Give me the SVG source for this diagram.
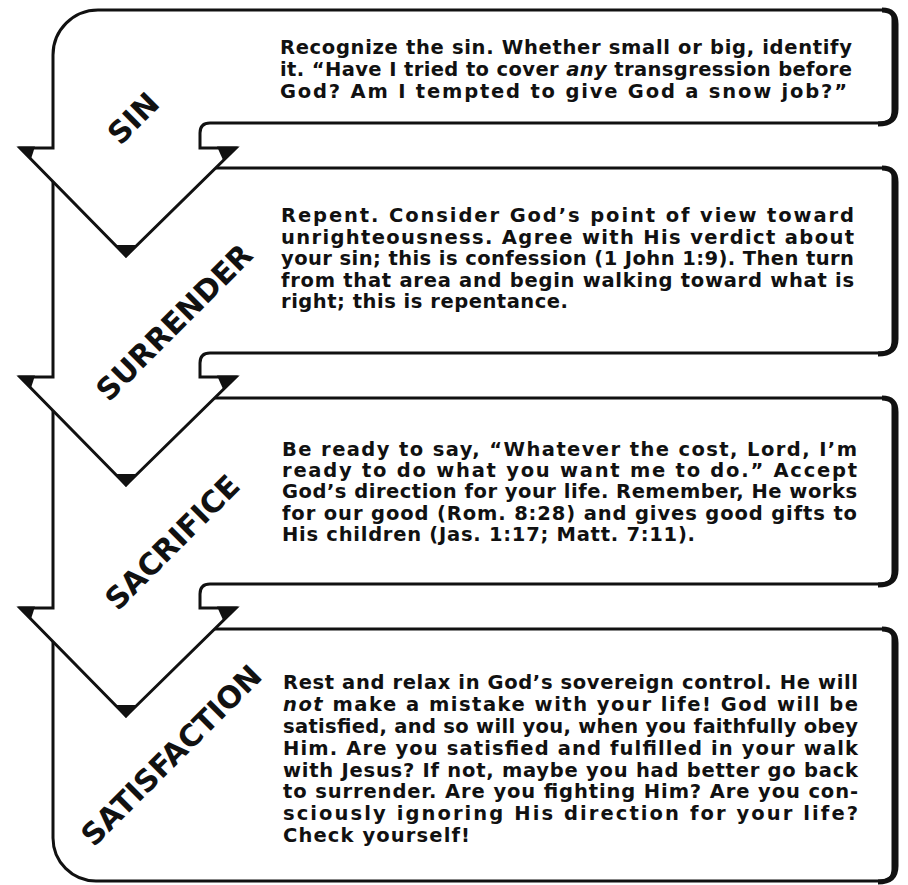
<svg xmlns="http://www.w3.org/2000/svg" xmlns:xlink="http://www.w3.org/1999/xlink" width="908" height="885" viewBox="0 0 908 885">
<style>
.shape{fill:#fff;stroke:#111;stroke-width:3;stroke-linejoin:miter;stroke-miterlimit:10}
.edge{fill:none;stroke:#111;stroke-width:5}
.wedge{fill:#111}
.body{font-family:"DejaVu Sans",sans-serif;font-weight:bold;font-size:19.5px;fill:#111}
.label{font-family:"DejaVu Sans",sans-serif;font-weight:bold;font-size:30px;fill:#111;text-anchor:middle}
</style>
<defs>
<g id="wedges">
<polygon class="wedge" points="18,-1.5 35,-1.5 31,11"/>
<polygon class="wedge" points="238,-1.5 217,-1.5 223,12"/>
<polygon class="wedge" points="126,110 115,97 137,97"/>
</g>
</defs>
<rect width="908" height="885" fill="#fff"/>
<g id="connectors"/>
<g id="satisfaction">
<path class="shape" d="M53,629 L884,629 Q893,629 893,638 L893,869 Q893,881 881,881 L96,881 A43,43 0 0 1 53,838 Z"/>
<path class="edge" d="M882,629 Q896,629 896,643 L896,866 Q896,882 878,882"/>
<text class="label" transform="translate(171,755) rotate(-45)" y="11">SATISFACTION</text>
<text class="body" x="283" y="689.3" textLength="575" lengthAdjust="spacing">Rest and relax in God’s sovereign control. He will</text>
<text class="body" x="283" y="711" textLength="575" lengthAdjust="spacing"><tspan font-style="italic">not</tspan> make a mistake with your life! God will be</text>
<text class="body" x="283" y="733.3" textLength="575" lengthAdjust="spacing">satisfied, and so will you, when you faithfully obey</text>
<text class="body" x="283" y="755" textLength="575" lengthAdjust="spacing">Him. Are you satisfied and fulfilled in your walk</text>
<text class="body" x="283" y="776.7" textLength="575" lengthAdjust="spacing">with Jesus? If not, maybe you had better go back</text>
<text class="body" x="283" y="798.3" textLength="575" lengthAdjust="spacing">to surrender. Are you fighting Him? Are you con-</text>
<text class="body" x="283" y="820" textLength="575" lengthAdjust="spacing">sciously ignoring His direction for your life?</text>
<text class="body" x="283" y="841.7" textLength="187" lengthAdjust="spacing">Check yourself!</text>
</g>
<g id="sacrifice">
<path class="shape" d="M126,716 L20,608 L53,608 L53,398 L884,398 Q893,398 893,407 L893,572 Q893,584 881,584 L210,584 Q200,584 200,594 L200,608 L236,608 Z"/>
<path class="edge" d="M882,398 Q896,398 896,412 L896,570 Q896,585 878,585"/>
<use xlink:href="#wedges" transform="translate(0,608)"/>
<text class="label" transform="translate(172,542) rotate(-45)" y="11">SACRIFICE</text>
<text class="body" x="282" y="455.7" textLength="575" lengthAdjust="spacing">Be ready to say, “Whatever the cost, Lord, I’m</text>
<text class="body" x="282" y="477" textLength="575" lengthAdjust="spacing">ready to do what you want me to do.” Accept</text>
<text class="body" x="282" y="498.3" textLength="575" lengthAdjust="spacing">God’s direction for your life. Remember, He works</text>
<text class="body" x="282" y="520" textLength="575" lengthAdjust="spacing">for our good (Rom. 8:28) and gives good gifts to</text>
<text class="body" x="282" y="541" textLength="413" lengthAdjust="spacing">His children (Jas. 1:17; Matt. 7:11).</text>
</g>
<g id="surrender">
<path class="shape" d="M126,485 L20,377 L53,377 L53,168 L884,168 Q893,168 893,177 L893,341 Q893,353 881,353 L210,353 Q200,353 200,363 L200,377 L236,377 Z"/>
<path class="edge" d="M882,168 Q896,168 896,182 L896,339 Q896,354 878,354"/>
<use xlink:href="#wedges" transform="translate(0,377)"/>
<text class="label" transform="translate(174,322) rotate(-45)" y="11">SURRENDER</text>
<text class="body" x="281" y="222.3" textLength="573" lengthAdjust="spacing">Repent. Consider God’s point of view toward</text>
<text class="body" x="281" y="243.7" textLength="573" lengthAdjust="spacing">unrighteousness. Agree with His verdict about</text>
<text class="body" x="281" y="265" textLength="573" lengthAdjust="spacing">your sin; this is confession (1 John 1:9). Then turn</text>
<text class="body" x="281" y="287" textLength="573" lengthAdjust="spacing">from that area and begin walking toward what is</text>
<text class="body" x="281" y="308.3" textLength="287" lengthAdjust="spacing">right; this is repentance.</text>
</g>
<g id="sin">
<path class="shape" d="M126,256 L20,148 L53,148 L53,55 A45,45 0 0 1 98,10 L884,10 Q893,10 893,19 L893,111 Q893,123 881,123 L210,123 Q200,123 200,133 L200,148 L236,148 Z"/>
<path class="edge" d="M882,10 Q896,10 896,24 L896,109 Q896,124 878,124"/>
<use xlink:href="#wedges" transform="translate(0,148)"/>
<text class="label" transform="translate(133,118) rotate(-45)" y="11">SIN</text>
<text class="body" x="280" y="54" textLength="572" lengthAdjust="spacing">Recognize the sin. Whether small or big, identify</text>
<text class="body" x="280" y="76" textLength="572" lengthAdjust="spacing">it. “Have I tried to cover <tspan font-style="italic">any</tspan> transgression before</text>
<text class="body" x="280" y="98" textLength="567" lengthAdjust="spacing">God? Am I tempted to give God a snow job?”</text>
</g>
</svg>
